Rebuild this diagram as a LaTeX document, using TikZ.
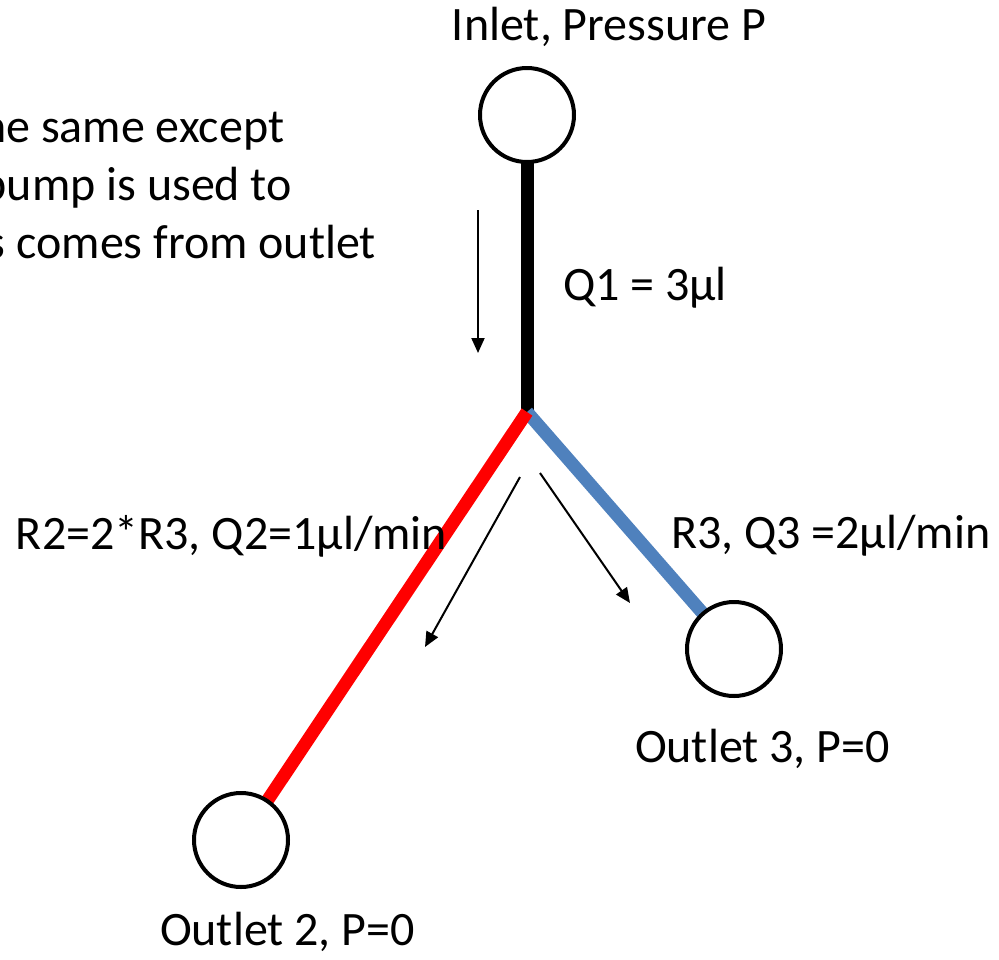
\documentclass[tikz,border=0pt]{standalone}
\usepackage{fontspec}
\setmainfont{Carlito}
\usetikzlibrary{arrows.meta}
\definecolor{pipeblue}{RGB}{79,129,189}

\begin{document}
\begin{tikzpicture}[x=1pt,y=-1pt,port/.style={circle,draw,line width=4pt,fill=white,minimum size=94pt,inner sep=0pt},pipe/.style={line width=13pt},flow/.style={line width=2pt,-{Triangle[length=15pt,width=13pt]}},txt/.style={font=\fontsize{48}{57}\selectfont,inner sep=0pt,outer sep=0pt}]
\useasboundingbox (0,0) rectangle (999,959);
\clip (0,0) rectangle (999,959);
\coordinate (In) at (527,115);
\coordinate (J) at (527,412);
\coordinate (O2) at (241,840);
\coordinate (O3) at (734,649);
\draw[pipe] (In) -- (J);
\draw[pipe,pipeblue] (J) -- (O3);
\draw[pipe,red] (J) -- (O2);
\node[port] (inlet) at (In) {};
\node[port] (out2) at (O2) {};
\node[port] (out3) at (O3) {};
% flow direction
\coordinate (f1a) at (478,210);
\coordinate (f1b) at (478,353);
\coordinate (f2a) at (520,477);
\coordinate (f2b) at (425,647);
\coordinate (f3a) at (540,473);
\coordinate (f3b) at (630,603);
\draw[flow] (f1a) -- (f1b);
\draw[flow] (f2a) -- (f2b);
\draw[flow] (f3a) -- (f3b);
% labels
\node[txt,anchor=base] (tin) at (609,40) {Inlet, Pressure P};
\node[txt,anchor=base west] (tq1) at (563,300) {Q1 = 3µl};
\node[txt,anchor=base west] (tr2) at (16,549) {R2=2*R3, Q2=1µl/min};
\node[txt,anchor=base west] (tr3) at (671,548) {R3, Q3 =2µl/min};
\node[txt,anchor=base west] (to3) at (635,762) {Outlet 3, P=0};
\node[txt,anchor=base west] (to2) at (160,945) {Outlet 2, P=0};
\node[txt,anchor=base east] (n1) at (284,142) {he same except};
\node[txt,anchor=base east] (n2) at (292,200) {pump is used to};
\node[txt,anchor=base east] (n3) at (376,258) {s comes from outlet};
\end{tikzpicture}
\end{document}
